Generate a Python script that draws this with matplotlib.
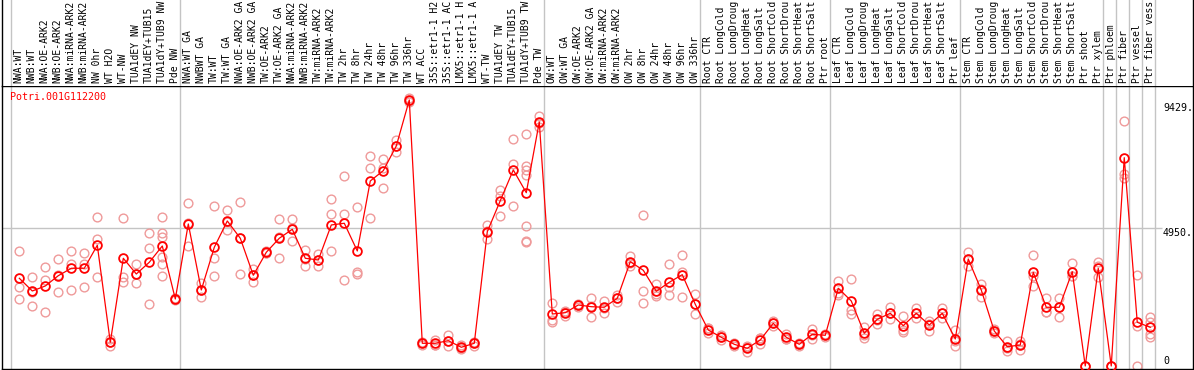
import matplotlib
matplotlib.use('Agg')
import matplotlib.pyplot as plt

gene = 'Potri.001G112200'

# sample names as printed (the chart truncates them to ~14 characters)
samples = [
    # NW
    'NWA:WT', 'NWB:WT', 'NWA:OE-ARK2', 'NWB:OE-ARK2', 'NWA:miRNA-ARK2', 'NWB:miRNA-ARK2',
    'NW 0hr', 'WT H2O', 'WT-NW', 'TUA1dEY NW', 'TUA1dEY+TUB15', 'TUA1dY+TUB9 NW', 'Pde NW',
    # TW
    'NWA:WT GA', 'NWBWT GA', 'TW:WT', 'TW:WT GA', 'NWA:OE-ARK2 GA', 'NWB:OE-ARK2 GA',
    'TW:OE-ARK2', 'TW:OE-ARK2 GA', 'NWA:miRNA-ARK2', 'NWB:miRNA-ARK2', 'TW:miRNA-ARK2',
    'TW:miRNA-ARK2', 'TW 2hr', 'TW 8hr', 'TW 24hr', 'TW 48hr', 'TW 96hr', 'TW 336hr',
    'WT ACC', '35S::etr1-1 H2', '35S::etr1-1 AC', 'LMX5::etr1-1 H', 'LMX5::etr1-1 A',
    'WT-TW', 'TUA1dEY TW', 'TUA1dEY+TUB15', 'TUA1dY+TUB9 TW', 'Pde TW',
    # OW
    'OW:WT', 'OW:WT GA', 'OW:OE-ARK2', 'OW:OE-ARK2 GA', 'OW:miRNA-ARK2', 'OW:miRNA-ARK2',
    'OW 2hr', 'OW 8hr', 'OW 24hr', 'OW 48hr', 'OW 96hr', 'OW 336hr',
    # root
    'Root CTR', 'Root LongCold', 'Root LongDroug', 'Root LongHeat', 'Root LongSalt',
    'Root ShortCold', 'Root ShortDrou', 'Root ShortHeat', 'Root ShortSalt', 'Ptr root',
    # leaf
    'Leaf CTR', 'Leaf LongCold', 'Leaf LongDroug', 'Leaf LongHeat', 'Leaf LongSalt',
    'Leaf ShortCold', 'Leaf ShortDrou', 'Leaf ShortHeat', 'Leaf ShortSalt', 'Ptr leaf',
    # stem
    'Stem CTR', 'Stem LongCold', 'Stem LongDroug', 'Stem LongHeat', 'Stem LongSalt',
    'Stem ShortCold', 'Stem ShortDrou', 'Stem ShortHeat', 'Stem ShortSalt', 'Ptr shoot',
    'Ptr xylem',
    'Ptr phloem', 'Ptr fiber', 'Ptr vessel', 'Ptr fiber vess',
]

# index of first sample in each group (last entry = end)
group_starts = [0, 13, 41, 53, 63, 73, 84, 85, 86, 87, 88]

means = [
    3146, 2690, 2870, 3239, 3505, 3505, 4330, 850, 3863, 3300, 3720, 4304, 2403,
    5094, 2726, 4258, 5201, 4581, 3253, 4078, 4581, 4903, 3863, 3802, 5058, 5119, 4125,
    6636, 7006, 7891, 9541, 814, 814, 908, 671, 814, 4817, 5929, 7031, 6216, 8752,
    1865, 1912, 2188, 2127, 2106, 2428, 3741, 3433, 2680, 3002, 3275, 2213,
    1291, 1029, 778, 635, 933, 1532, 1029, 778, 1137, 1101,
    2787, 2332, 1173, 1675, 1890, 1446, 1890, 1471, 1890, 969,
    3838, 2726, 1255, 692, 753, 3361, 2106, 2106, 3383, 0, 3505,
    0, 7472, 1568, 1388,
]

reps = [
    [4136, 2845, 2393], [3182, 2665, 2163], [3540, 3085, 1926], [3827, 2644, 3246],
    [4136, 3648, 2715], [4043, 3648, 2845], [5345, 4555, 3182], [969, 728, 853],
    [5298, 3182, 3024], [3648, 2966, 3286], [4771, 4222, 2213],
    [5345, 4760, 4616, 3921, 3648, 3228], [2403, 2350, 2450],
    [5836, 4315, 5131], [2988, 2464, 2726], [5739, 3863, 3228], [5585, 4868, 5150],
    [5872, 3289, 4582], [3490, 3002, 3267], [4125, 4043, 4066], [5262, 3863, 4618],
    [5262, 4495, 4952], [4161, 3598, 3830], [4007, 3598, 3801], [5990, 5452, 4125],
    [6826, 5452, 3085], [5693, 3300, 3382], [7522, 7092, 5309], [7436, 7113, 6374],
    [8107, 7665, 7901], [9624, 9480, 9519], [872, 753, 814], [933, 753, 760],
    [1112, 717, 895], [753, 610, 650], [872, 728, 840], [5058, 4545, 4848],
    [6313, 5381, 6093], [8132, 7235, 5750],
    [8322, 7174, 7031, 6851, 5022, 4484, 4437], [8968, 8584, 8704],
    [2249, 1650, 1589], [1984, 1804, 1950], [2127, 2200, 2240], [2450, 1768, 2160],
    [2342, 1890, 2090], [2547, 2306, 2430], [3946, 3587, 3690], [5400, 2690, 2249],
    [2941, 2511, 2590], [3648, 2845, 2536], [3982, 2464, 3380], [2572, 1854, 2213],
    [1352, 1173, 1350], [1112, 933, 1040], [814, 717, 800], [717, 513, 675],
    [994, 789, 1015], [1625, 1435, 1540], [1148, 958, 980], [814, 717, 800],
    [1316, 969, 1126], [1148, 1051, 1104],
    [3060, 2629, 2547], [3110, 2009, 1854], [1410, 994, 1115], [1865, 1496, 1664],
    [2106, 1675, 1889], [1804, 1230, 1304], [2070, 1711, 1889], [1625, 1266, 1522],
    [2070, 1711, 1889], [1291, 717, 899],
    [4078, 3598, 3838], [2931, 2486, 2761], [1255, 1200, 1310], [908, 538, 630],
    [908, 574, 777], [3982, 2880, 3221], [2428, 1948, 1942], [2428, 1768, 2122],
    [3705, 3228, 3216], [0, 0, 0], [3741, 3203, 3571],
    [0, 0, 0], [8799, 6876, 6754], [3264, 0, 1440], [1768, 1148, 1051, 1585],
]

ytick_values = [9429, 4950, 0]
ytick_labels = ['9429.', '4950.', '0']
grid_value = 4950

W, H = 1194, 370
mono = 'DejaVu Sans Mono'
fs = 7.0
grey = '#c4c4c4'

fig = plt.figure(figsize=(W / 100, H / 100), dpi=100)
ax = fig.add_axes([1.5 / W, 1.0 / H, 1191 / W, 283.5 / H])
lab = fig.add_axes([1.5 / W, 284.5 / H, 1191 / W, 85.5 / H])

xlim = (-1.37, 90.25)
for a in (ax, lab):
    a.set_xlim(*xlim)
    a.set_xticks([])
    a.set_yticks([])
    for s in a.spines.values():
        s.set_linewidth(1.0)
        s.set_color('black')
    for b in group_starts:
        a.axvline(b - 0.64, color=grey, lw=1.0, zorder=0)
lab.spines['top'].set_visible(False)
lab.spines['bottom'].set_visible(False)
lab.set_ylim(0, 1)

ax.set_ylim(-108, 10060)
ax.hlines(grid_value, xlim[0], 87.9, color=grey, lw=1.0, zorder=0)

x = list(range(len(samples)))

# replicates
for i, r in enumerate(reps):
    ax.plot([i] * len(r), r, linestyle='none', marker='o', ms=6.3,
            mfc='none', mec='#ef9a9a', mew=1.0, zorder=2, clip_on=False)

# means
ax.plot(x, means, color='red', lw=0.9, marker='o', ms=6.3, mfc='none',
        mec='red', mew=1.3, zorder=3, clip_on=False)

# sample labels (vertical)
for i, s in enumerate(samples):
    lab.text(i - 0.05, 0.025, s, rotation=90, ha='center', va='bottom',
             fontfamily=mono, fontsize=fs, color='black')

# value labels at the right
for v, t in zip(ytick_values, ytick_labels):
    ax.text(87.98, v, t, ha='left', va='top' if v > 0 else 'bottom',
            fontfamily=mono, fontsize=7.2, color='black')

fig.text(10 / W, 1 - 92 / H, gene, ha='left', va='top', color='red',
         fontfamily=mono, fontsize=7.2)

fig.savefig('out.png', dpi=100)
